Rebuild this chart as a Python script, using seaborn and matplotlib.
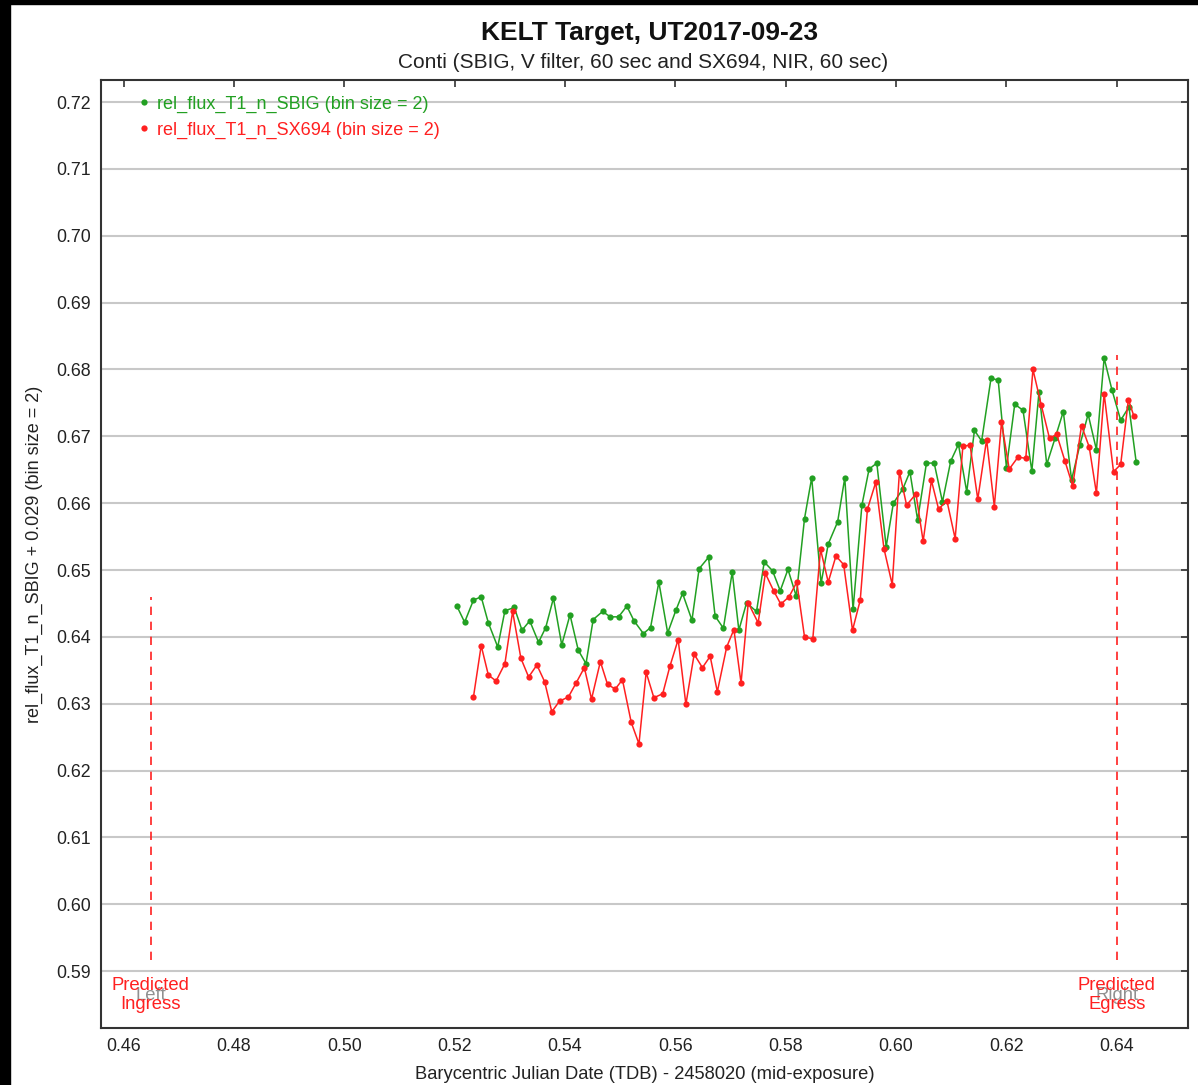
import matplotlib
matplotlib.use("Agg")
import matplotlib.pyplot as plt
import seaborn as sns
import pandas as pd
from matplotlib.lines import Line2D
from matplotlib.patches import Rectangle
import matplotlib.transforms as mtransforms

# SBIG series (BJD - 2458020, rel flux + 0.029)
sbig_x = [0.5204, 0.5218, 0.5234, 0.5248, 0.5261, 0.5278, 0.5291, 0.5308, 0.5322, 0.5336,
          0.5352, 0.5365, 0.5379, 0.5394, 0.5409, 0.5424, 0.5438, 0.5451, 0.5468, 0.5482,
          0.5497, 0.5512, 0.5525, 0.5542, 0.5555, 0.5570, 0.5586, 0.5601, 0.5613, 0.5630,
          0.5643, 0.5660, 0.5672, 0.5687, 0.5703, 0.5715, 0.5729, 0.5747, 0.5761, 0.5776,
          0.5790, 0.5804, 0.5819, 0.5834, 0.5847, 0.5864, 0.5877, 0.5894, 0.5907, 0.5922,
          0.5938, 0.5951, 0.5965, 0.5982, 0.5995, 0.6012, 0.6025, 0.6039, 0.6055, 0.6069,
          0.6084, 0.6099, 0.6113, 0.6128, 0.6142, 0.6155, 0.6172, 0.6185, 0.6200, 0.6215,
          0.6230, 0.6246, 0.6259, 0.6273, 0.6288, 0.6303, 0.6318, 0.6333, 0.6348, 0.6363,
          0.6377, 0.6391, 0.6407, 0.6422, 0.6435]
sbig_y = [0.6446, 0.6422, 0.6455, 0.6460, 0.6421, 0.6385, 0.6439, 0.6444, 0.6410, 0.6424,
          0.6392, 0.6414, 0.6458, 0.6388, 0.6433, 0.6380, 0.6360, 0.6426, 0.6438, 0.6430,
          0.6430, 0.6446, 0.6424, 0.6405, 0.6414, 0.6482, 0.6406, 0.6440, 0.6465, 0.6425,
          0.6502, 0.6519, 0.6431, 0.6413, 0.6497, 0.6410, 0.6451, 0.6438, 0.6512, 0.6499,
          0.6469, 0.6501, 0.6461, 0.6577, 0.6638, 0.6480, 0.6539, 0.6572, 0.6638, 0.6441,
          0.6597, 0.6651, 0.6660, 0.6535, 0.6600, 0.6621, 0.6647, 0.6575, 0.6660, 0.6660,
          0.6602, 0.6663, 0.6688, 0.6617, 0.6709, 0.6693, 0.6787, 0.6784, 0.6653, 0.6748,
          0.6739, 0.6648, 0.6767, 0.6658, 0.6697, 0.6737, 0.6635, 0.6687, 0.6733, 0.6680,
          0.6817, 0.6770, 0.6724, 0.6744, 0.6662]

# SX694 series
sx_x = [0.5234, 0.5248, 0.5261, 0.5275, 0.5291, 0.5305, 0.5320, 0.5334, 0.5349, 0.5363,
        0.5376, 0.5390, 0.5406, 0.5420, 0.5435, 0.5448, 0.5464, 0.5477, 0.5491, 0.5504,
        0.5520, 0.5534, 0.5547, 0.5561, 0.5577, 0.5590, 0.5605, 0.5619, 0.5634, 0.5649,
        0.5663, 0.5676, 0.5693, 0.5706, 0.5719, 0.5732, 0.5750, 0.5763, 0.5778, 0.5791,
        0.5806, 0.5820, 0.5834, 0.5849, 0.5863, 0.5877, 0.5891, 0.5905, 0.5921, 0.5935,
        0.5948, 0.5963, 0.5978, 0.5993, 0.6006, 0.6019, 0.6036, 0.6049, 0.6064, 0.6077,
        0.6092, 0.6107, 0.6121, 0.6134, 0.6148, 0.6164, 0.6178, 0.6191, 0.6205, 0.6221,
        0.6235, 0.6248, 0.6263, 0.6278, 0.6291, 0.6306, 0.6320, 0.6336, 0.6350, 0.6363,
        0.6377, 0.6394, 0.6407, 0.6421, 0.6431]
sx_y = [0.6310, 0.6387, 0.6343, 0.6334, 0.6360, 0.6438, 0.6368, 0.6340, 0.6358, 0.6333,
        0.6288, 0.6304, 0.6310, 0.6331, 0.6354, 0.6307, 0.6363, 0.6329, 0.6322, 0.6336,
        0.6272, 0.6240, 0.6347, 0.6309, 0.6315, 0.6356, 0.6396, 0.6299, 0.6374, 0.6354,
        0.6371, 0.6318, 0.6385, 0.6411, 0.6331, 0.6451, 0.6421, 0.6495, 0.6469, 0.6449,
        0.6460, 0.6482, 0.6400, 0.6397, 0.6531, 0.6482, 0.6521, 0.6508, 0.6410, 0.6455,
        0.6591, 0.6631, 0.6532, 0.6478, 0.6647, 0.6597, 0.6614, 0.6543, 0.6634, 0.6591,
        0.6604, 0.6547, 0.6685, 0.6687, 0.6606, 0.6695, 0.6595, 0.6721, 0.6651, 0.6669,
        0.6667, 0.6800, 0.6747, 0.6697, 0.6703, 0.6663, 0.6626, 0.6716, 0.6684, 0.6615,
        0.6764, 0.6647, 0.6658, 0.6755, 0.6730]

labels = ["rel_flux_T1_n_SBIG (bin size = 2)", "rel_flux_T1_n_SX694 (bin size = 2)"]
colors = ["#22a022", "#ff2020"]

# predicted ingress / egress markers
event_x = [0.4649, 0.6400]
event_top = [0.6460, 0.6822]
event_bottom = 0.5917
event_names = ["Predicted\nIngress", "Predicted\nEgress"]
event_side = ["Left", "Right"]

xticks = [0.46, 0.48, 0.50, 0.52, 0.54, 0.56, 0.58, 0.60, 0.62, 0.64]
yticks = [0.59, 0.60, 0.61, 0.62, 0.63, 0.64, 0.65, 0.66, 0.67, 0.68, 0.69, 0.70, 0.71, 0.72]

df = pd.concat([
    pd.DataFrame({"x": sbig_x, "y": sbig_y, "series": labels[0]}),
    pd.DataFrame({"x": sx_x, "y": sx_y, "series": labels[1]}),
])

sns.set_style("white")
plt.rcParams['font.family'] = ['Liberation Sans', 'DejaVu Sans']

fig = plt.figure(figsize=(11.98, 10.85), dpi=100)
ax = fig.add_axes([101 / 1198, 1 - 1028 / 1085, 1087 / 1198, 948 / 1085])

for lab, col in zip(labels, colors):
    sub = df[df.series == lab]
    sns.lineplot(data=sub, x="x", y="y", ax=ax, color=col, linewidth=1.1,
                 marker="o", markersize=4.5, markeredgewidth=0, sort=False,
                 estimator=None, legend=False)

trans = mtransforms.blended_transform_factory(ax.transData, ax.transAxes)
for ex, et, name, side in zip(event_x, event_top, event_names, event_side):
    ax.vlines(ex, event_bottom, et, colors="#ff2020", linestyles=(0, (5, 4)), linewidth=1.2)
    ax.text(ex, 0.0348, side, transform=trans, ha="center", va="center",
            color="#909090", fontsize=13.3)
    ax.text(ex, 0.0348, name, transform=trans, ha="center", va="center",
            color="#ff2020", fontsize=13.3, linespacing=1.2)

ax.set_xlim(0.4559, 0.6529)
ax.set_ylim(0.5815, 0.7233)
ax.set_xticks(xticks)
ax.set_yticks(yticks)
ax.set_xticklabels([f"{t:.2f}" for t in xticks])
ax.set_yticklabels([f"{t:.2f}" for t in yticks])
ax.tick_params(direction="in", length=5, width=1.2, colors="#333333",
               labelcolor="#222222", labelsize=12.8, top=True, right=True,
               labeltop=False, labelright=False, pad=7)
ax.grid(axis="y", color="#c8c8c8", linewidth=1.5)
ax.grid(axis="x", visible=False)
ax.set_axisbelow(True)
for sp in ax.spines.values():
    sp.set_color("#333333")
    sp.set_linewidth(1.5)

ax.set_xlabel("Barycentric Julian Date (TDB) - 2458020 (mid-exposure)", fontsize=13.2,
              color="#222222", labelpad=8)
ax.set_ylabel("rel_flux_T1_n_SBIG + 0.029 (bin size = 2)", fontsize=13,
              color="#222222", labelpad=10)

handles = [Line2D([], [], color=c, marker="o", linestyle="none", markersize=4.5,
                  markeredgewidth=0) for c in colors]
leg = ax.legend(handles, labels, loc="upper left", frameon=False, fontsize=13,
                handletextpad=0.2, handlelength=1.0, labelspacing=0.5,
                borderaxespad=0.3, bbox_to_anchor=(0.02, 0.997))
for txt, c in zip(leg.get_texts(), colors):
    txt.set_color(c)

fig.text(650 / 1198, 1 - 33 / 1085, "KELT Target, UT2017-09-23", ha="center", va="center",
         fontsize=19, fontweight="bold", color="#111111")
fig.text(643 / 1198, 1 - 63 / 1085, "Conti (SBIG, V filter, 60 sec and SX694, NIR, 60 sec)",
         ha="center", va="center", fontsize=15, color="#222222")

# black frame strips on top and left of the original screenshot
fig.add_artist(Rectangle((0, 1 - 4 / 1085), 1, 4 / 1085, transform=fig.transFigure,
                         color="black", zorder=10))
fig.add_artist(Rectangle((0, 0), 10 / 1198, 1, transform=fig.transFigure,
                         color="black", zorder=10))

fig.savefig("out.png", dpi=100)
